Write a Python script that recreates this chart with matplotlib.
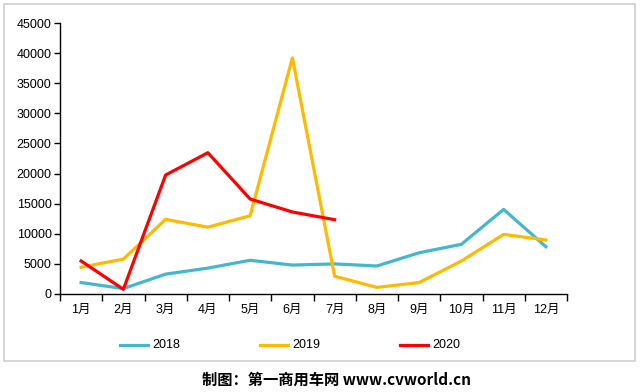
import matplotlib.pyplot as plt
from matplotlib.patches import Rectangle
import numpy as np

plt.rcParams['font.family'] = ['Liberation Sans', 'Noto Sans CJK SC', 'DejaVu Sans']

months = ['1月', '2月', '3月', '4月', '5月', '6月', '7月', '8月', '9月', '10月', '11月', '12月']
y2018 = [1900, 900, 3300, 4300, 5600, 4800, 5000, 4650, 6850, 8250, 14050, 7850]
y2019 = [4450, 5800, 12400, 11100, 13000, 39200, 2950, 1100, 1900, 5480, 9900, 8970]
y2020 = [5480, 780, 19760, 23460, 15770, 13620, 12340]

W, H = 640, 392
fig = plt.figure(figsize=(W / 100, H / 100), dpi=100)

# outer frame
fig.patches.append(Rectangle((4 / W, 1 - 361 / H), 631 / W, 357 / H, transform=fig.transFigure,
                             fill=False, edgecolor='#d0d0d0', linewidth=1.2))

ax = fig.add_axes([60 / W, 1 - 294 / H, 507 / W, 271 / H])
x = np.arange(len(months))
ax.plot(x, y2018, color='#43b7d0', lw=2.3, label='2018')
ax.plot(x, y2019, color='#ffba00', lw=2.3, label='2019')
ax.plot(x[:len(y2020)], y2020, color='#ff0000', lw=2.3, label='2020')

ax.set_xlim(-0.5, 11.5)
ax.set_ylim(0, 45000)
ax.set_yticks(np.arange(0, 45001, 5000))
ax.set_xticks(np.arange(-0.5, 12, 1))
ax.set_xticklabels([])
ax.set_xticks(x, minor=True)
ax.set_xticklabels(months, minor=True)
ax.tick_params(axis='x', which='minor', length=0, pad=7, labelsize=9)
ax.tick_params(axis='x', which='major', length=5, width=1, direction='out')
ax.tick_params(axis='y', length=4, width=1, labelsize=9, pad=2)
for s in ['top', 'right']:
    ax.spines[s].set_visible(False)
for s in ['left', 'bottom']:
    ax.spines[s].set_linewidth(1)

# legend
leg_items = [('2018', '#43b7d0', 120), ('2019', '#ffba00', 260), ('2020', '#ff0000', 400)]
ly = 1 - 345 / H
for lab, col, px in leg_items:
    fig.add_artist(plt.Line2D([px / W, (px + 28) / W], [ly, ly], color=col, lw=2.3))
    fig.text((px + 32) / W, ly, lab, fontsize=9, va='center', ha='left')

fig.text(337 / W, 1 - 380 / H, '制图：第一商用车网 www.cvworld.cn', fontsize=11, fontweight='bold',
         ha='center', va='center', family=['Noto Sans CJK SC', 'DejaVu Sans'])

fig.savefig('out.png', dpi=100)
